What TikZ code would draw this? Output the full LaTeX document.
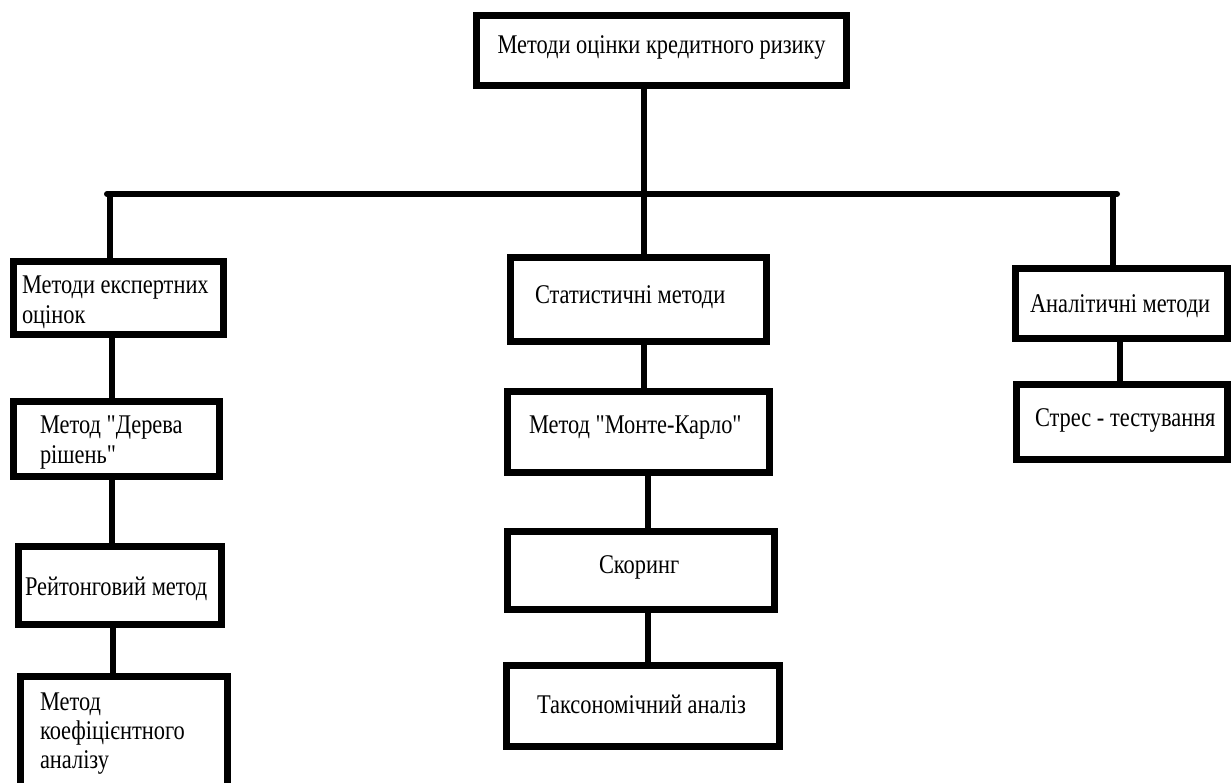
\documentclass[tikz,border=0pt]{standalone}
\usepackage{fontspec}
\setmainfont{Liberation Serif}[FakeStretch=0.83, Ligatures=TeXOff]
\begin{document}
\begin{tikzpicture}[x=1pt,y=-1pt,
  box/.style={draw, line width=7pt, fill=white, inner sep=0pt, outer sep=0pt, rectangle},
  conn/.style={line width=6pt},
  txt/.style={inner sep=0pt, outer sep=0pt, anchor=base west, font=\fontsize{27}{30}\selectfont}]
\useasboundingbox[fill=white] (0,0) rectangle (1231,782);
\clip (0,0) rectangle (1231,782);

% boxes
\node[box, minimum width=370pt, minimum height=70pt] (top) at (661.5,50.5) {};
\node[box, minimum width=210pt, minimum height=73pt] (e1) at (118.5,298) {};
\node[box, minimum width=206pt, minimum height=75pt] (e2) at (116.5,439) {};
\node[box, minimum width=203pt, minimum height=78pt] (e3) at (120,585.5) {};
\node[box, minimum width=207pt, minimum height=120pt] (e4) at (124,736.5) {};
\node[box, minimum width=256pt, minimum height=84pt] (s1) at (638.5,299.5) {};
\node[box, minimum width=262pt, minimum height=81pt] (s2) at (638.5,432) {};
\node[box, minimum width=267pt, minimum height=78pt] (s3) at (641,570.5) {};
\node[box, minimum width=273pt, minimum height=81pt] (s4) at (643,706) {};
\node[box, minimum width=212pt, minimum height=70pt] (a1) at (1121.5,303.5) {};
\node[box, minimum width=211pt, minimum height=75pt] (a2) at (1122,422) {};

% texts
\node[txt, anchor=base] (ttop) at (661.5,53) {Методи оцінки кредитного ризику};
\node[txt] (te1a) at (22,293) {Методи експертних};
\node[txt] (te1b) at (22,323) {оцінок};
\node[txt] (te2a) at (40,433) {Метод "Дерева};
\node[txt] (te2b) at (40,463) {рішень"};
\node[txt] (te3) at (25,595) {Рейтонговий метод};
\node[txt] (te4a) at (40,710) {Метод};
\node[txt] (te4b) at (40,739) {коефіцієнтного};
\node[txt] (te4c) at (40,768) {аналізу};
\node[txt] (ts1) at (535,303) {Статистичні методи};
\node[txt] (ts2) at (529,433) {Метод "Монте-Карло"};
\node[txt] (ts3) at (599,573) {Скоринг};
\node[txt] (ts4) at (537,713) {Таксономічний аналіз};
\node[txt] (ta1) at (1030,312) {Аналітичні методи};
\node[txt] (ta2) at (1035,426) {Стрес - тестування};

% connector coordinates
\coordinate (bus) at (644,194);
\coordinate (busL) at (107,194);
\coordinate (busR) at (1117,194);
\coordinate (xl) at (110,0);
\coordinate (xr) at (1113,0);
\coordinate (xe1) at (112,0);
\coordinate (xe3) at (113,0);
\coordinate (xs1) at (644,0);
\coordinate (xs2) at (648,0);
\coordinate (xa) at (1120,0);

\draw[conn] (top.south -| bus) -- (bus);
\draw[conn, line cap=round] (busL) -- (busR);
\draw[conn] (busL -| xl) -- (e1.north -| xl);
\draw[conn] (bus) -- (s1.north -| bus);
\draw[conn] (busR -| xr) -- (a1.north -| xr);
\draw[conn] (e1.south -| xe1) -- (e2.north -| xe1);
\draw[conn] (e2.south -| xe1) -- (e3.north -| xe1);
\draw[conn] (e3.south -| xe3) -- (e4.north -| xe3);
\draw[conn] (s1.south -| xs1) -- (s2.north -| xs1);
\draw[conn] (s2.south -| xs2) -- (s3.north -| xs2);
\draw[conn] (s3.south -| xs2) -- (s4.north -| xs2);
\draw[conn] (a1.south -| xa) -- (a2.north -| xa);
\end{tikzpicture}
\end{document}
